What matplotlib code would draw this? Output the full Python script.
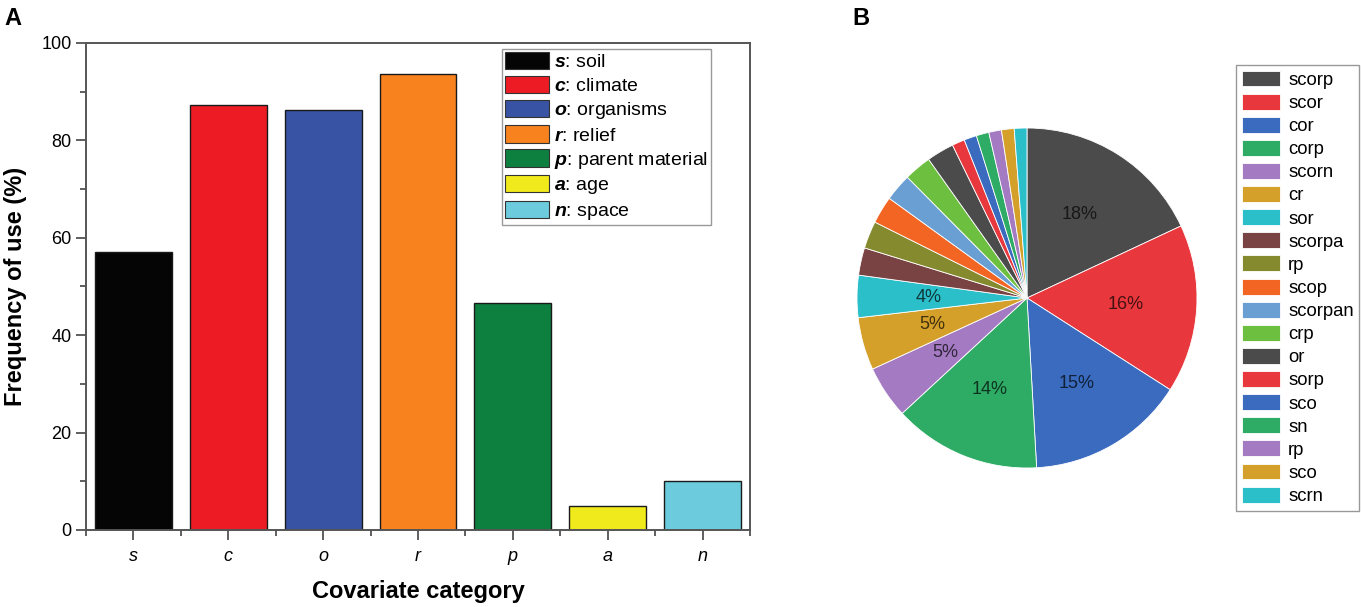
import matplotlib as mpl
import matplotlib.pyplot as plt
import numpy as np
from matplotlib.colors import to_rgb
from matplotlib.ticker import FixedLocator, MultipleLocator

mpl.rcParams["font.family"] = ["Liberation Sans", "DejaVu Sans"]
mpl.rcParams["mathtext.fontset"] = "custom"
mpl.rcParams["mathtext.rm"] = "Liberation Sans"
mpl.rcParams["mathtext.it"] = "Liberation Sans:italic"
mpl.rcParams["mathtext.bf"] = "Liberation Sans:bold"
mpl.rcParams["mathtext.bfit"] = "Liberation Sans:italic:bold"

# panel A: covariate categories
categories = ["s", "c", "o", "r", "p", "a", "n"]
category_names = ["soil", "climate", "organisms", "relief", "parent material", "age", "space"]
frequency = [57.1, 87.3, 86.2, 93.7, 46.7, 5.0, 10.1]
bar_colors = ["#050505", "#ed1c24", "#3953a4", "#f7821e", "#0d8040", "#f0ea1c", "#6ccbdc"]

# panel B: covariate combinations
combos = ["scorp", "scor", "cor", "corp", "scorn", "cr", "sor", "scorpa", "rp", "scop",
          "scorpan", "crp", "or", "sorp", "sco", "sn", "rp", "sco", "scrn"]
shares = [18, 16, 15, 14, 5, 5, 4, 2.6, 2.6, 2.6, 2.6, 2.6, 2.6, 1.2, 1.2, 1.2, 1.2, 1.2, 1.2]
pie_colors = ["#4b4b4b", "#e8383d", "#3a6bbf", "#2eac66", "#a47bc2", "#d4a02a", "#2bbfc9",
              "#7a4343", "#858a2e", "#f26522", "#6a9fd4", "#6cbf3f",
              "#4b4b4b", "#e8383d", "#3a6bbf", "#2eac66", "#a47bc2", "#d4a02a", "#2bbfc9"]

W, H = 1361, 607
fig = plt.figure(figsize=(W / 100, H / 100), dpi=100)


def px_box(left, top, right, bottom):
    return [left / W, 1 - bottom / H, (right - left) / W, (bottom - top) / H]


# ---- A: bar chart
ax = fig.add_axes(px_box(86, 43, 750, 530))
x = np.arange(len(categories))
ax.bar(x, frequency, width=0.81, color=bar_colors, edgecolor="#1a1a1a", linewidth=1.0)
ax.set_xlim(-0.5, len(categories) - 0.5)
ax.set_ylim(0, 100)
ax.yaxis.set_major_locator(MultipleLocator(20))
ax.yaxis.set_minor_locator(MultipleLocator(10))
ax.set_xticks(x)
ax.set_xticklabels(categories, fontstyle="italic")
ax.xaxis.set_minor_locator(FixedLocator(np.arange(-0.5, len(categories), 1.0)))
ax.tick_params(which="both", direction="out", color="#444444", labelsize=13, width=1.2)
ax.tick_params(which="major", length=7)
ax.tick_params(which="minor", length=4)
ax.tick_params(axis="x", pad=6)
for sp in ax.spines.values():
    sp.set_color("#555555")
    sp.set_linewidth(1.4)
ax.set_xlabel("Covariate category", fontsize=17, fontweight="bold", labelpad=11)
ax.set_ylabel("Frequency of use (%)", fontsize=17, fontweight="bold", labelpad=10)

handles = [mpl.patches.Patch(facecolor=c, edgecolor="#333333", linewidth=0.8) for c in bar_colors]
labels = [rf"$\mathbfit{{{c}}}$: {n}" for c, n in zip(categories, category_names)]
ax.legend(handles, labels, loc="upper left", bbox_to_anchor=(502 / W, 1 - 49 / H),
          bbox_transform=fig.transFigure, borderaxespad=0, fontsize=14,
          handlelength=2.25, handleheight=1.0, handletextpad=0.3, labelspacing=0.23,
          borderpad=0.15, fancybox=False, edgecolor="#999999", framealpha=1)

# ---- B: pie chart
r_px = 170
cx, cy = 1027, 298
pax = fig.add_axes(px_box(cx - 1.1 * r_px, cy - 1.1 * r_px, cx + 1.1 * r_px, cy + 1.1 * r_px))


def fmt(p):
    return f"{p:.0f}%" if p >= 3.5 else ""


wedges, _, autotexts = pax.pie(shares, colors=pie_colors, startangle=90, counterclock=False,
                               autopct=fmt, pctdistance=0.58,
                               wedgeprops=dict(edgecolor="white", linewidth=0.6))
for t, c in zip(autotexts, pie_colors):
    t.set_color(tuple(v * 0.3 for v in to_rgb(c)))
    t.set_fontsize(13)
pax.set_xlim(-1.1, 1.1)
pax.set_ylim(-1.1, 1.1)
pax.set_aspect("equal")

fig.legend(wedges, combos, loc="upper left", bbox_to_anchor=(1236 / W, 1 - 65 / H),
           borderaxespad=0, fontsize=13.3, handlelength=2.1, handleheight=0.95,
           handletextpad=0.42, labelspacing=0.26, borderpad=0.3, fancybox=False,
           edgecolor="#999999", framealpha=1)

fig.text(4 / W, 1 - 25 / H, "A", fontsize=17, fontweight="bold", va="baseline")
fig.text(852 / W, 1 - 25 / H, "B", fontsize=17, fontweight="bold", va="baseline")

fig.savefig("out.png", dpi=100)
